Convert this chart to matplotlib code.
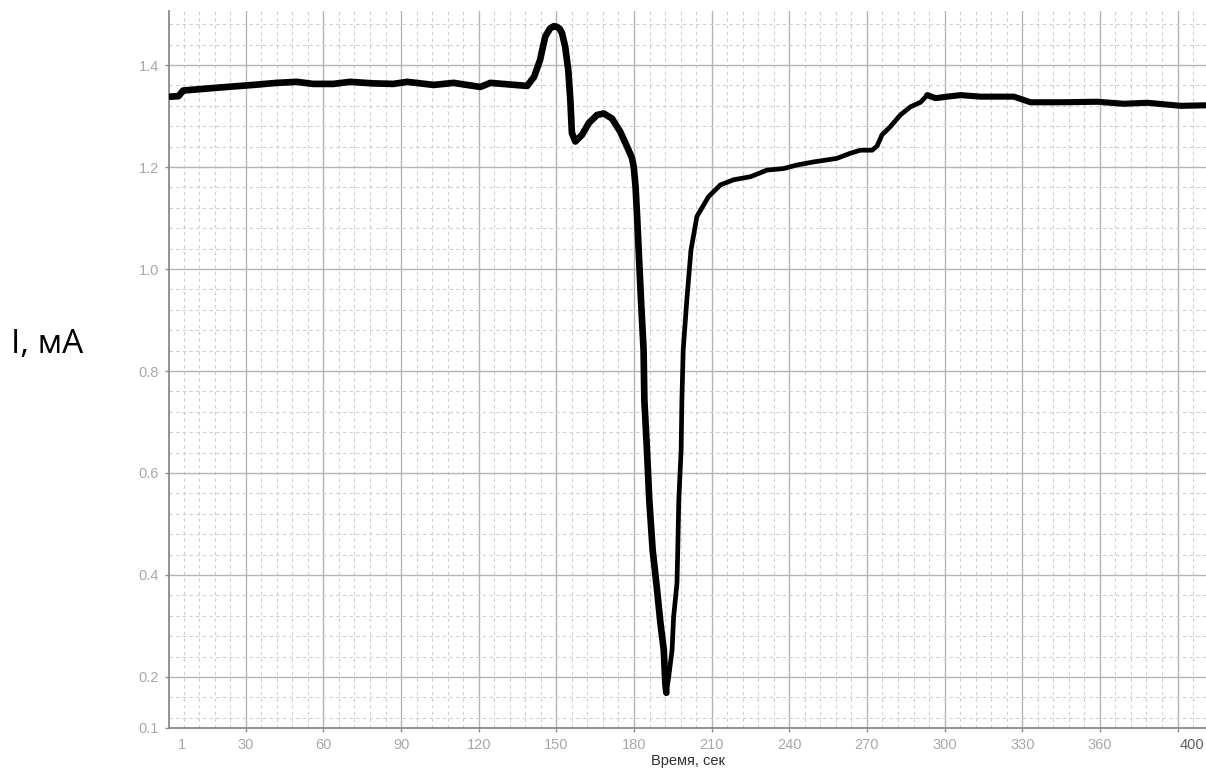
import matplotlib
matplotlib.use("Agg")
import matplotlib.pyplot as plt
from matplotlib.ticker import MultipleLocator, FixedLocator

# time, s
t = [0.8, 4.0, 5.8, 20.1, 32.9, 42.0, 49.7, 56.0, 63.8, 70.3, 79.2, 87.0, 92.4,
     102.6, 110.3, 120.6, 124.5, 138.7, 141.4, 143.7, 145.7, 147.6, 149.0, 150.2,
     151.3, 152.2, 153.4, 154.6, 155.4, 156.0, 157.3, 159.9, 162.5, 165.7, 168.3,
     171.5, 174.7, 177.3, 179.2, 179.9, 180.6, 181.2, 181.8, 182.7, 183.7, 184.0,
     185.0, 185.9, 187.2, 188.9, 190.2, 191.5, 192.1, 192.5,
     193.4, 194.7, 195.3, 196.6, 196.9, 197.3, 198.2, 198.5, 199.0, 200.4, 202.0,
     204.3, 208.8, 213.4, 218.5, 225.0, 231.4, 237.8, 243.0, 249.4, 258.4, 263.6,
     267.5, 272.0, 273.9, 275.8, 279.0, 282.9, 286.8, 290.7, 293.3,
     296.5, 301.0, 306.2, 313.9, 326.8, 333.2, 346.1, 359.0, 369.3, 378.3, 391.2,
     400.8]
# current, mA
current = [1.338, 1.339, 1.350, 1.356, 1.361, 1.365, 1.367, 1.363, 1.363, 1.367,
           1.364, 1.363, 1.367, 1.361, 1.365, 1.357, 1.365, 1.359, 1.377, 1.410,
           1.456, 1.472, 1.476, 1.475, 1.471, 1.462, 1.436, 1.390, 1.331, 1.267,
           1.250, 1.263, 1.286, 1.302, 1.305, 1.295, 1.269, 1.240, 1.218, 1.200,
           1.161, 1.103, 1.037, 0.939, 0.841, 0.743, 0.645, 0.547, 0.449, 0.371,
           0.306, 0.253, 0.188, 0.169,
           0.200, 0.253, 0.318, 0.384, 0.449, 0.547, 0.645, 0.743, 0.841, 0.939,
           1.037, 1.103, 1.142, 1.165, 1.175, 1.181, 1.194, 1.197, 1.204, 1.210,
           1.217, 1.227, 1.233, 1.233, 1.241, 1.263, 1.279, 1.302, 1.318, 1.327,
           1.341,
           1.335, 1.338, 1.341, 1.338, 1.338, 1.327, 1.327, 1.328, 1.324, 1.326,
           1.320, 1.321]

x_major = list(range(0, 391, 30))
x_labels = ["" if v in (0, 390) else str(v) for v in x_major]
y_major = [0.1, 0.2, 0.4, 0.6, 0.8, 1.0, 1.2, 1.4]
y_labels = ["0.1", "0.2", "0.4", "0.6", "0.8", "1.0", "1.2", "1.4"]

plt.rcParams["font.family"] = ["Liberation Sans", "DejaVu Sans"]

fig = plt.figure(figsize=(12.06, 7.71), dpi=100)
ax = fig.add_axes([0.1405, 0.0558, 0.8595, 0.9293])

# line drawn in three pieces, the recovery part looks thinner in the original
i_min = current.index(min(current))
i_top = t.index(293.3)
style = dict(color="black", solid_capstyle="round", solid_joinstyle="round", zorder=3)
ax.plot(t[:i_min + 1], current[:i_min + 1], lw=4.8, **style)
ax.plot(t[i_min:i_top + 1], current[i_min:i_top + 1], lw=3.4, **style)
ax.plot(t[i_top:], current[i_top:], lw=4.4, **style)

ax.set_xlim(0.5, 401)
ax.set_ylim(0.1, 1.505)

ax.xaxis.set_major_locator(FixedLocator(x_major))
ax.set_xticklabels(x_labels)
ax.xaxis.set_minor_locator(MultipleLocator(6))
ax.set_yticks(y_major)
ax.set_yticklabels(y_labels)
ax.yaxis.set_minor_locator(MultipleLocator(0.04))

ax.grid(which="major", color="#b4b4b4", lw=1.0, ls="-", zorder=0)
ax.grid(which="minor", color="#cfcfcf", lw=0.8, ls=(0, (3, 3)), zorder=0)
ax.set_axisbelow(True)

ax.tick_params(which="major", length=3, width=1, color="#909090",
               labelsize=10.5, labelcolor="#a8a8a8", pad=4.5)
ax.tick_params(which="minor", length=0)

for side in ("top", "right"):
    ax.spines[side].set_visible(False)
for side in ("left", "bottom"):
    ax.spines[side].set_color("#8a8a8a")
    ax.spines[side].set_linewidth(1.3)

# end labels of the time axis
ax.annotate("1", xy=(1, 0), xycoords=("data", "axes fraction"),
            xytext=(8, -7.5), textcoords="offset points", ha="center", va="top",
            fontsize=10.5, color="#a8a8a8")
ax.annotate("400", xy=(401, 0), xycoords=("data", "axes fraction"),
            xytext=(-1, -7.5), textcoords="offset points", ha="right", va="top",
            fontsize=10.5, color="#606060")

ax.set_xlabel("Время, сек", fontsize=10.5, color="#303030", labelpad=1.5)
fig.text(0.039, 0.553, "I, мА", fontsize=24, ha="center", va="center",
         family=["Open Sans", "DejaVu Sans"], color="black")

fig.savefig("out.png", dpi=100)
